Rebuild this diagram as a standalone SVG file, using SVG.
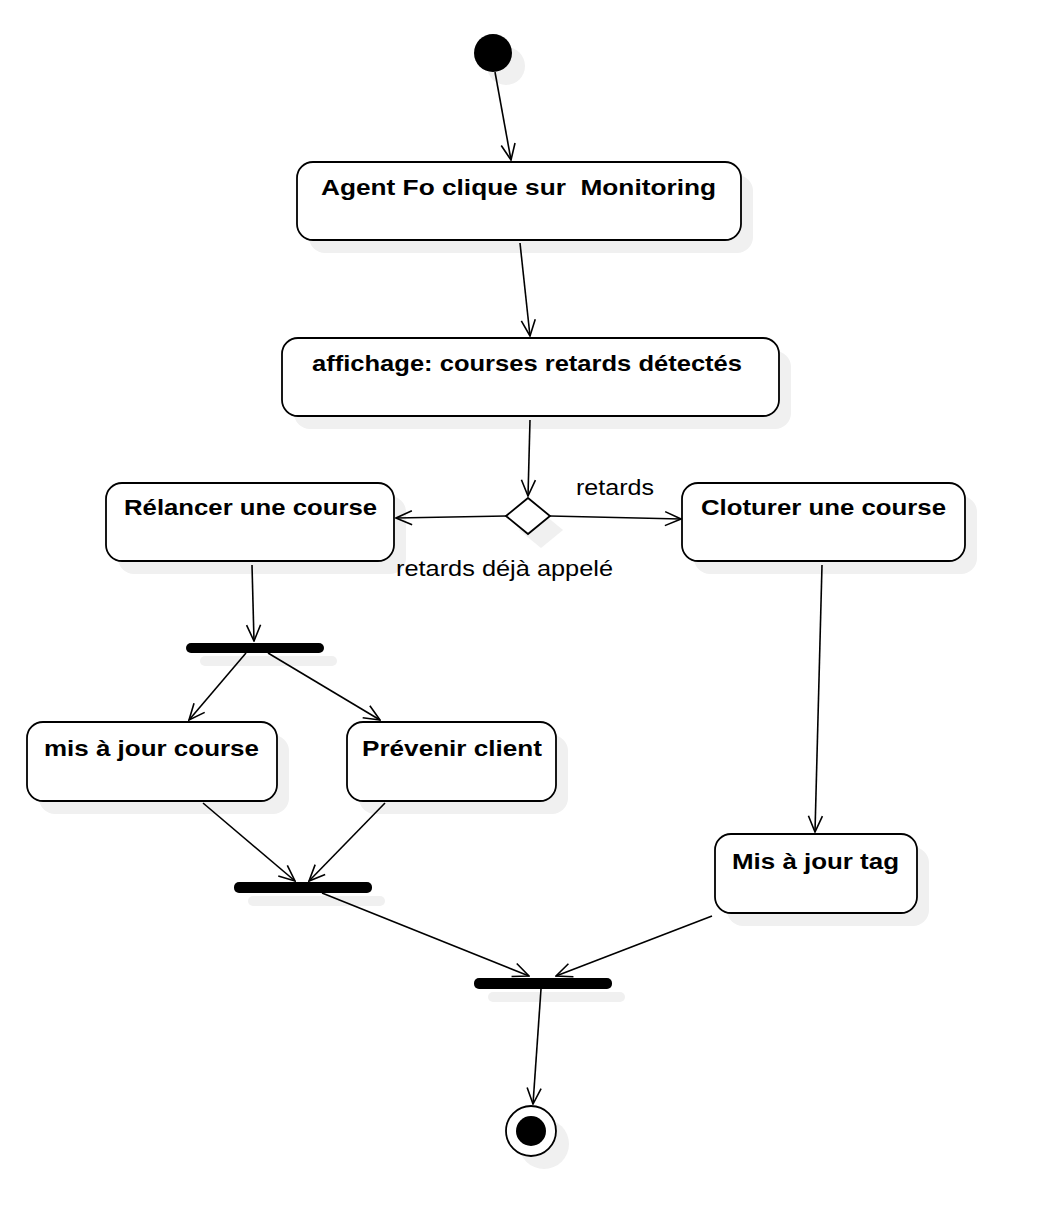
<svg xmlns="http://www.w3.org/2000/svg" width="1038" height="1222" viewBox="0 0 1038 1222">
<style>
.box{fill:#fff;stroke:#000;stroke-width:1.8}
.sh{fill:#f0f0f0;stroke:none}
.bar{fill:#000}
.t{font-family:"Liberation Sans",Arial,sans-serif;font-size:22.5px;font-weight:bold;fill:#000;white-space:pre}
.l{font-family:"Liberation Sans",Arial,sans-serif;font-size:22.5px;fill:#000}
.c{fill:none;stroke:#000;stroke-width:1.6}
</style>
<defs>
<marker id="a" markerUnits="userSpaceOnUse" markerWidth="18" markerHeight="18" viewBox="0 0 18 18" refX="17" refY="9" orient="auto">
<path d="M1,2 L17,9 L1,16" fill="none" stroke="#000" stroke-width="1.6"/>
</marker>
</defs>
<rect width="1038" height="1222" fill="#fff"/>

<g id="start">
<circle class="sh" cx="506" cy="66" r="19"/>
<circle cx="493" cy="53" r="19" fill="#000"/>
</g>

<g id="n1">
<rect class="sh" x="309" y="175" width="444" height="78" rx="16"/>
<rect class="box" x="297" y="162" width="444" height="78" rx="16"/>
<text class="t" x="321" y="195" textLength="395" lengthAdjust="spacingAndGlyphs" xml:space="preserve">Agent Fo clique sur  Monitoring</text>
</g>

<g id="n2">
<rect class="sh" x="294" y="351" width="497" height="78" rx="16"/>
<rect class="box" x="282" y="338" width="497" height="78" rx="16"/>
<text class="t" x="312" y="371" textLength="430" lengthAdjust="spacingAndGlyphs">affichage: courses retards détectés</text>
</g>

<g id="decision">
<polygon class="sh" points="541,512 563,530 541,548 519,530"/>
<polygon points="528,498 550,516 528,534 506,516" fill="#fff" stroke="#000" stroke-width="1.8"/>
</g>

<g id="n3">
<rect class="sh" x="118" y="496" width="288" height="78" rx="16"/>
<rect class="box" x="106" y="483" width="288" height="78" rx="16"/>
<text class="t" x="124" y="515" textLength="253" lengthAdjust="spacingAndGlyphs">Rélancer une course</text>
</g>

<g id="n4">
<rect class="sh" x="694" y="496" width="283" height="78" rx="16"/>
<rect class="box" x="682" y="483" width="283" height="78" rx="16"/>
<text class="t" x="701" y="515" textLength="245" lengthAdjust="spacingAndGlyphs">Cloturer une course</text>
</g>

<g id="fork1">
<rect class="sh" x="200" y="656" width="137" height="10" rx="5"/>
<rect class="bar" x="186" y="643" width="138" height="10" rx="5"/>
</g>

<g id="n5">
<rect class="sh" x="39" y="735" width="250" height="79" rx="16"/>
<rect class="box" x="27" y="722" width="250" height="79" rx="16"/>
<text class="t" x="44" y="756" textLength="215" lengthAdjust="spacingAndGlyphs">mis à jour course</text>
</g>

<g id="n6">
<rect class="sh" x="359" y="735" width="209" height="79" rx="16"/>
<rect class="box" x="347" y="722" width="209" height="79" rx="16"/>
<text class="t" x="362" y="756" textLength="180" lengthAdjust="spacingAndGlyphs">Prévenir client</text>
</g>

<g id="n7">
<rect class="sh" x="727" y="847" width="202" height="79" rx="16"/>
<rect class="box" x="715" y="834" width="202" height="79" rx="16"/>
<text class="t" x="732" y="869" textLength="167" lengthAdjust="spacingAndGlyphs">Mis à jour tag</text>
</g>

<g id="join1">
<rect class="sh" x="248" y="896" width="137" height="10" rx="5"/>
<rect class="bar" x="234" y="882" width="138" height="11" rx="5"/>
</g>

<g id="join2">
<rect class="sh" x="488" y="992" width="137" height="10" rx="5"/>
<rect class="bar" x="474" y="978" width="138" height="11" rx="5"/>
</g>

<g id="end">
<circle class="sh" cx="544" cy="1144" r="25"/>
<circle cx="531" cy="1131" r="25" fill="#fff" stroke="#000" stroke-width="1.8"/>
<circle cx="531" cy="1131" r="15" fill="#000"/>
</g>

<g id="connectors">
<line class="c" x1="495" y1="72" x2="511" y2="160" marker-end="url(#a)"/>
<line class="c" x1="520" y1="243" x2="530" y2="336" marker-end="url(#a)"/>
<line class="c" x1="530" y1="420" x2="528" y2="496" marker-end="url(#a)"/>
<line class="c" x1="506" y1="516" x2="396" y2="518" marker-end="url(#a)"/>
<line class="c" x1="550" y1="516" x2="681" y2="519" marker-end="url(#a)"/>
<line class="c" x1="252" y1="565" x2="254" y2="641" marker-end="url(#a)"/>
<line class="c" x1="246" y1="653" x2="189" y2="720" marker-end="url(#a)"/>
<line class="c" x1="268" y1="653" x2="380" y2="720" marker-end="url(#a)"/>
<line class="c" x1="203" y1="803" x2="295" y2="881" marker-end="url(#a)"/>
<line class="c" x1="385" y1="803" x2="309" y2="881" marker-end="url(#a)"/>
<line class="c" x1="322" y1="893" x2="529" y2="976" marker-end="url(#a)"/>
<line class="c" x1="822" y1="565" x2="815" y2="832" marker-end="url(#a)"/>
<line class="c" x1="712" y1="916" x2="556" y2="976" marker-end="url(#a)"/>
<line class="c" x1="541" y1="989" x2="533" y2="1104" marker-end="url(#a)"/>
<text class="l" x="576" y="495" textLength="78" lengthAdjust="spacingAndGlyphs">retards</text>
<text class="l" x="396" y="576" textLength="217" lengthAdjust="spacingAndGlyphs">retards déjà appelé</text>
</g>
</svg>
